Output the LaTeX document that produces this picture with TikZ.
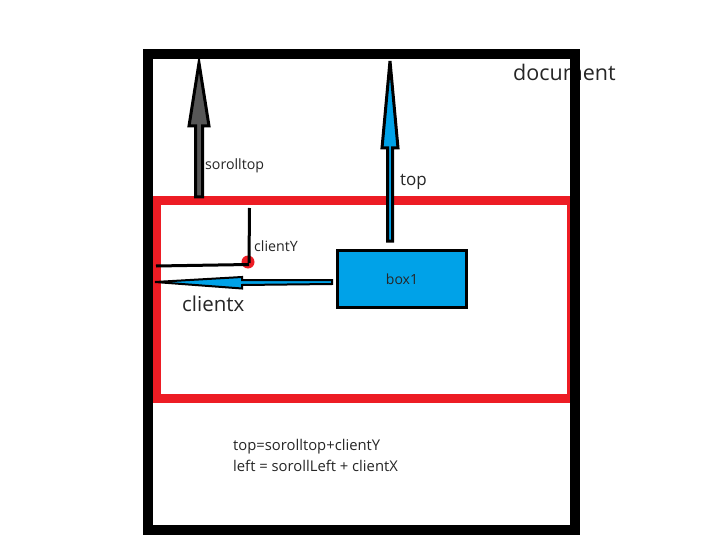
\documentclass[tikz,border=0pt]{standalone}
\usepackage{fontspec}
\setmainfont{Open Sans}
\definecolor{pblue}{HTML}{00A2E8}
\definecolor{pred}{HTML}{ED1C24}
\definecolor{pgrey}{HTML}{575757}
\begin{document}
\begin{tikzpicture}[x=1pt,y=-1pt,
  txt/.style={anchor=west,inner sep=0pt,text=black!85},
  blockarrow/.style={draw=black,line width=3pt,line join=miter},
  thinline/.style={draw=black,line width=3pt}]
\useasboundingbox (0,0) rectangle (710,559);
\fill[white] (0,0) rectangle (710,559);
% label under the border
\node[txt,font=\fontsize{21.5}{26}\selectfont] (doc) at (513,72) {document};
% red frame (viewport) and black frame (document)
\draw[pred,line width=9pt] (156.5,200.5) rectangle (571,398.5);
\draw[black,line width=10pt] (148,54) rectangle (575,530);
% box1
\node[draw=black,line width=3pt,fill=pblue,minimum width=129pt,minimum height=57pt,inner sep=0pt,
  font=\fontsize{14}{16}\selectfont,text=black!85] (box1) at (402,279) {box1};
% grey scrolltop arrow
\coordinate (gtip) at (199,63);
\filldraw[blockarrow,fill=pgrey] (195.5,197) -- (195.5,126) -- (189,126) -- (gtip) -- (209,126) -- (202.5,126) -- (202.5,197) -- cycle;
% blue top arrow
\coordinate (btip) at (390,61);
\filldraw[blockarrow,fill=pblue] (387.5,241) -- (387.5,148) -- (382,148) -- (btip) -- (398,148) -- (392.5,148) -- (392.5,241) -- cycle;
% clientx arrow from box1
\coordinate (ctail) at ([yshift=-3pt]box1.west);
\coordinate (ctip) at (155,282);
\filldraw[draw=black,line width=2pt,fill=pblue,line join=miter]
  ([xshift=-4pt,yshift=2pt]ctail) -- (242,280) -- (242,277) -- (ctip) -- (242,288.5) -- (242,285) -- ([xshift=-4pt,yshift=-2pt]ctail) -- cycle;
% clientY lines and point
\coordinate (cyTop) at (249.5,208);
\coordinate (cxLeft) at (156,266);
\fill[pred] (248,262) circle (6.5pt) coordinate (pt);
\draw[thinline] (cyTop) -- (249,263);
\draw[thinline] (cxLeft) -- (249,264.5);
% labels
\node[txt,font=\fontsize{14.2}{16}\selectfont] (lst) at (205,166) {sorolltop};
\node[txt,font=\fontsize{17}{20}\selectfont] (ltop) at (400,182) {top};
\node[txt,font=\fontsize{14.2}{16}\selectfont] (lcy) at (254,246) {clientY};
\node[txt,font=\fontsize{20.5}{24}\selectfont] (lcx) at (182,304) {clientx};
\node[txt,font=\fontsize{14.8}{17}\selectfont] (f1) at (233,447) {top=sorolltop+clientY};
\node[txt,font=\fontsize{14.8}{17}\selectfont] (f2) at (233,466) {left = sorollLeft + clientX};
\end{tikzpicture}
\end{document}
